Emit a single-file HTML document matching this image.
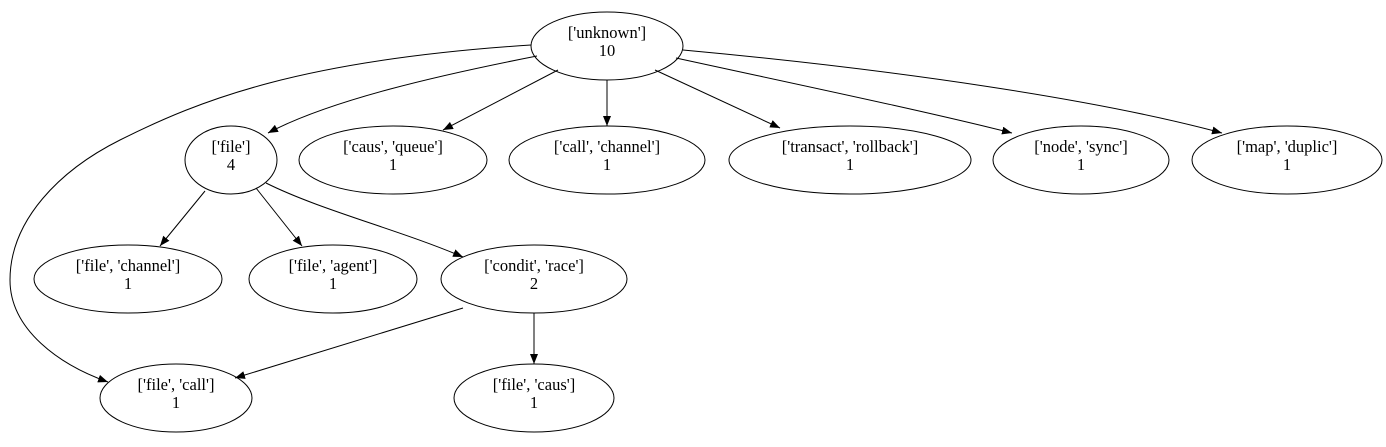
<!DOCTYPE html>
<html><head><meta charset="utf-8"><style>
html,body{margin:0;padding:0;background:#fff;}
svg text{font-family:"Liberation Serif",serif;font-size:16.5px;text-anchor:middle;fill:#000;}
</style></head><body>
<svg width="1386" height="442" viewBox="0 0 1386 442" xmlns="http://www.w3.org/2000/svg">
<defs><marker id="a" markerWidth="10" markerHeight="8" refX="10" refY="4" orient="auto" markerUnits="userSpaceOnUse"><path d="M0,0 L10,4 L0,8 z" fill="#000"/></marker></defs>
<g fill="none" stroke="#000" stroke-width="1">
<ellipse cx="607" cy="46" rx="76" ry="34"/>
<ellipse cx="231" cy="160" rx="46" ry="34"/>
<ellipse cx="393" cy="160" rx="94" ry="34"/>
<ellipse cx="607" cy="160" rx="98" ry="34"/>
<ellipse cx="850" cy="160" rx="121" ry="34"/>
<ellipse cx="1081" cy="160" rx="88" ry="34"/>
<ellipse cx="1287" cy="160" rx="95" ry="34"/>
<ellipse cx="128" cy="279" rx="94" ry="34"/>
<ellipse cx="333" cy="279" rx="84" ry="34"/>
<ellipse cx="534" cy="279" rx="93" ry="34"/>
<ellipse cx="176" cy="398" rx="76" ry="34"/>
<ellipse cx="534" cy="398" rx="80" ry="34"/>
<g marker-end="url(#a)">
<path d="M537,56 C440,75 330,100 268,133"/>
<path d="M558,70 L443,130"/>
<path d="M607,80 L607,126"/>
<path d="M655,70 L780,128"/>
<path d="M676,58 C800,85 920,110 1012,133"/>
<path d="M683,50 C900,70 1100,100 1222,133"/>
<path d="M205,191 L160,246"/>
<path d="M256,188 L302,246"/>
<path d="M266,183 C320,210 400,230 463,257"/>
<path d="M463,308 L235,378"/>
<path d="M534,313 L534,364"/>
<path d="M531,45 C300,60 200,100 120,140 C60,170 10,220 10,280 C10,330 60,365 108,382"/>
</g></g>
<text x="607" y="38">['unknown']</text><text x="607" y="56">10</text>
<text x="231" y="152">['file']</text><text x="231" y="170">4</text>
<text x="393" y="152">['caus', 'queue']</text><text x="393" y="170">1</text>
<text x="607" y="152">['call', 'channel']</text><text x="607" y="170">1</text>
<text x="850" y="152">['transact', 'rollback']</text><text x="850" y="170">1</text>
<text x="1081" y="152">['node', 'sync']</text><text x="1081" y="170">1</text>
<text x="1287" y="152">['map', 'duplic']</text><text x="1287" y="170">1</text>
<text x="128" y="271">['file', 'channel']</text><text x="128" y="289">1</text>
<text x="333" y="271">['file', 'agent']</text><text x="333" y="289">1</text>
<text x="534" y="271">['condit', 'race']</text><text x="534" y="289">2</text>
<text x="176" y="390">['file', 'call']</text><text x="176" y="408">1</text>
<text x="534" y="390">['file', 'caus']</text><text x="534" y="408">1</text>
</svg>
</body></html>
